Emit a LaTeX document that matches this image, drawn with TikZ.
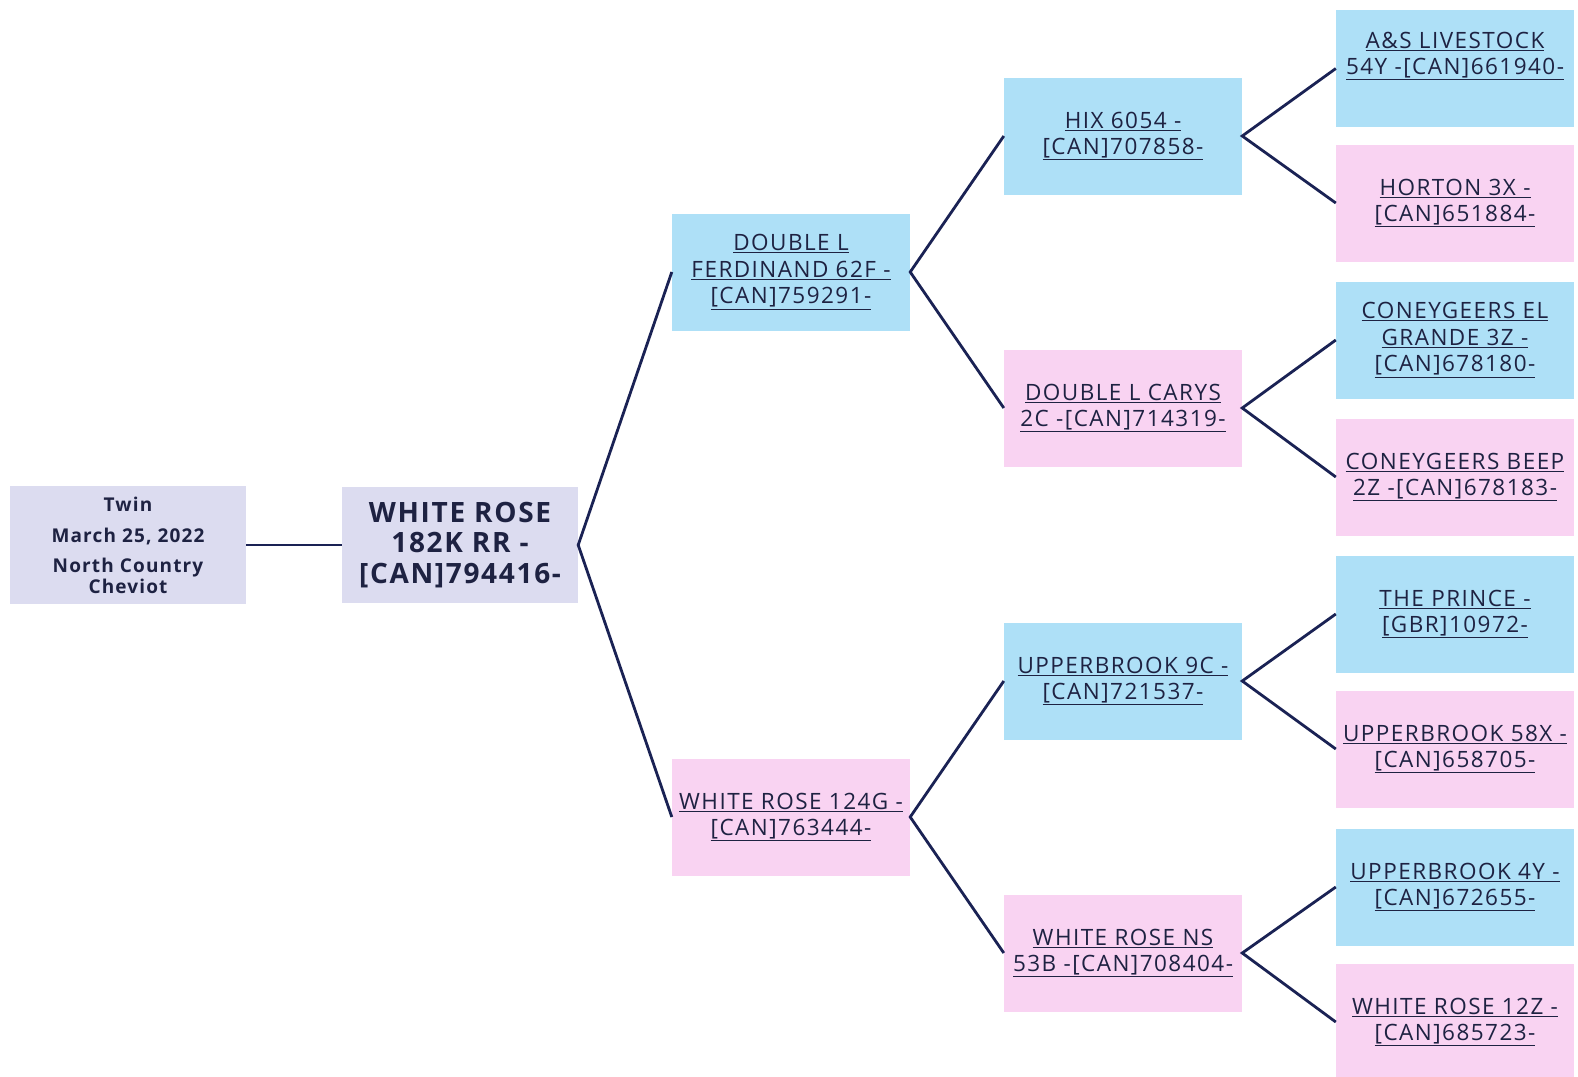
\documentclass[tikz,border=0pt]{standalone}
\usepackage{fontspec}
\setmainfont{Open Sans}[LetterSpace=6.5]
\newfontfamily\boldface{Open Sans}[BoldFont={* Bold},LetterSpace=6]
\definecolor{boxblue}{RGB}{174,224,247}
\definecolor{boxpink}{RGB}{249,211,242}
\definecolor{boxlav}{RGB}{220,220,240}
\definecolor{navy}{RGB}{26,34,84}
\definecolor{ink}{RGB}{30,34,66}
\newcommand\pul[1]{\underline{#1}}
\begin{document}
\begin{tikzpicture}[x=1pt,y=-1pt,
 base/.style={minimum width=238pt, minimum height=117pt, inner sep=0pt, align=center, text=ink, font=\fontsize{22.5}{26.5}\selectfont},
 male/.style={base, fill=boxblue},
 female/.style={base, fill=boxpink},
 subj/.style={base, minimum width=236pt, minimum height=116pt, fill=boxlav, font=\boldface\bfseries\fontsize{28}{30.5}\selectfont},
 info/.style={base, minimum width=236pt, minimum height=118pt, fill=boxlav, font=\boldface\bfseries\fontsize{19}{21}\selectfont},
 link/.style={draw=navy, line width=2.8pt},
 txt/.style={inner sep=0pt, align=center, text=ink, font=\fontsize{22.5}{26.5}\selectfont}]
\useasboundingbox[fill=white] (0,0) rectangle (1578,1076);
% generation 0 and 1
\node[info] (twin) at (128,545) {Twin\\[10pt]March 25, 2022\\[9pt]North Country\\Cheviot};
\node[subj] (root) at (460,545) {WHITE ROSE\\182K RR -\\{}[CAN]794416-};
% generation 2
\node[male] (sire) at (791,272) {\pul{DOUBLE L}\\\pul{FERDINAND 62F -}\\\pul{[CAN]759291-}};
\node[female] (dam) at (791,817) {\pul{WHITE ROSE 124G -}\\\pul{[CAN]763444-}};
% generation 3
\node[male] (ss) at (1123,136) {\pul{HIX 6054 -}\\\pul{[CAN]707858-}};
\node[female] (sd) at (1123,408) {\pul{DOUBLE L CARYS}\\\pul{2C -[CAN]714319-}};
\node[male] (ds) at (1123,681) {\pul{UPPERBROOK 9C -}\\\pul{[CAN]721537-}};
\node[female] (dd) at (1123,953) {\pul{WHITE ROSE NS}\\\pul{53B -[CAN]708404-}};
% generation 4
\node[male] (sss) at (1455,68.5) {};
\node[txt] (sssT) at (1455,56) {\pul{A\&S LIVESTOCK}\\\pul{54Y -[CAN]661940-}};
\node[female] (ssd) at (1455,203) {\pul{HORTON 3X -}\\\pul{[CAN]651884-}};
\node[male] (sds) at (1455,340) {\pul{CONEYGEERS EL}\\\pul{GRANDE 3Z -}\\\pul{[CAN]678180-}};
\node[female] (sdd) at (1455,477) {\pul{CONEYGEERS BEEP}\\\pul{2Z -[CAN]678183-}};
\node[male] (dss) at (1455,614) {\pul{THE PRINCE -}\\\pul{[GBR]10972-}};
\node[female] (dsd) at (1455,749) {\pul{UPPERBROOK 58X -}\\\pul{[CAN]658705-}};
\node[male] (dds) at (1455,887) {\pul{UPPERBROOK 4Y -}\\\pul{[CAN]672655-}};
\node[female] (ddd) at (1455,1022) {\pul{WHITE ROSE 12Z -}\\\pul{[CAN]685723-}};
% connectors
\draw[link] (twin.east) -- (root.west);
\draw[link] (sire.west) -- (root.east) -- (dam.west);
\draw[link] (ss.west) -- (sire.east) -- (sd.west);
\draw[link] (ds.west) -- (dam.east) -- (dd.west);
\draw[link] (sss.west) -- (ss.east) -- (ssd.west);
\draw[link] (sds.west) -- (sd.east) -- (sdd.west);
\draw[link] (dss.west) -- (ds.east) -- (dsd.west);
\draw[link] (dds.west) -- (dd.east) -- (ddd.west);
\end{tikzpicture}
\end{document}
